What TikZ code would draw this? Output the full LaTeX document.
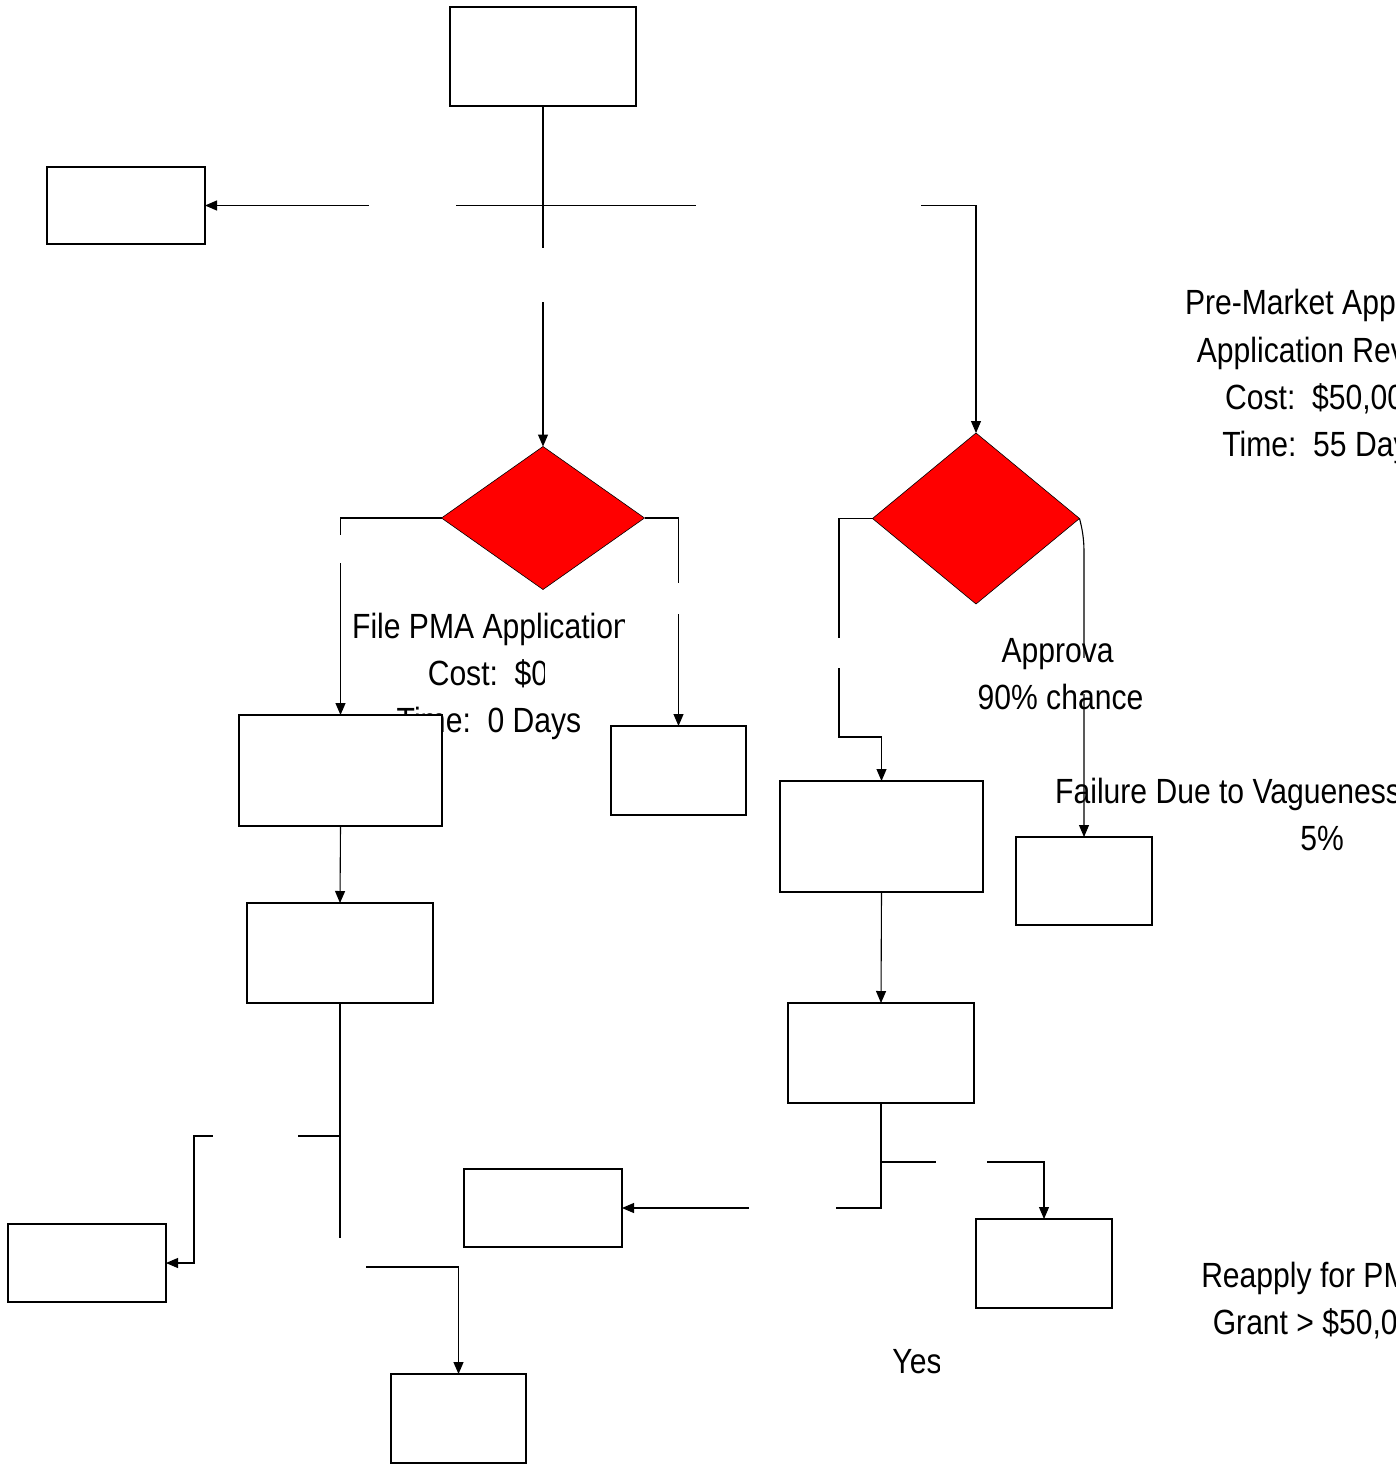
\documentclass[tikz,border=0pt]{standalone}
\usepackage{fontspec}
\setmainfont{Liberation Sans}
\newfontfamily\lblfont[FakeStretch=0.86]{Liberation Sans}
\usetikzlibrary{shapes.geometric,arrows.meta}

\begin{document}
\begin{tikzpicture}[x=1pt,y=-1pt,
  box/.style={draw=black,fill=white,line width=1.1pt,inner sep=0pt,outer sep=0pt},
  decision/.style={diamond,draw=black,fill=red,line width=0.6pt,inner sep=0pt,outer sep=0pt},
  conn/.style={draw=black,line width=1.1pt},
  arr/.style={conn,-{Triangle[length=12pt,width=10pt]}},
  gapbox/.style={fill=white,inner sep=0pt,outer sep=0pt},
  lbl/.style={font=\lblfont\fontsize{35}{47}\selectfont,inner sep=0pt,anchor=base},
]
\useasboundingbox (0,0) rectangle (1396,1464);
\clip (0,0) rectangle (1396,1464);

% third line of the filing label sits beneath box B
\node[lbl] (fileT) at (489,732) {Time:\ \ 0 Days};

% boxes
\node[box,minimum width=186pt,minimum height=99pt]  (top) at (543,56.5) {};
\node[box,minimum width=158pt,minimum height=77pt]  (A)   at (126,205.5) {};
\node[box,minimum width=203pt,minimum height=111pt] (B)   at (340.5,770.5) {};
\node[box,minimum width=135pt,minimum height=89pt]  (C)   at (678.5,770.5) {};
\node[box,minimum width=203pt,minimum height=111pt] (D)   at (881.5,836.5) {};
\node[box,minimum width=136pt,minimum height=88pt]  (E)   at (1084,881) {};
\node[box,minimum width=186pt,minimum height=100pt] (F)   at (340,953) {};
\node[box,minimum width=158pt,minimum height=78pt]  (G)   at (87,1263) {};
\node[box,minimum width=135pt,minimum height=89pt]  (H)   at (458.5,1418.5) {};
\node[box,minimum width=186pt,minimum height=100pt] (I)   at (881,1053) {};
\node[box,minimum width=158pt,minimum height=78pt]  (J)   at (543,1208) {};
\node[box,minimum width=136pt,minimum height=89pt]  (K)   at (1044,1263.5) {};

% decisions
\node[decision,minimum width=203pt,minimum height=143pt] (L) at (543,518) {};
\node[decision,minimum width=207pt,minimum height=171pt] (R) at (976,518.5) {};

% connectors
\draw[arr] (top.south) |- (A.east);
\draw[arr] (top.south) -- (L.north);
\draw[arr] (top.south) -- (top.south |- A.east) -| (R.north);
\draw[arr] (L.west) -| (B.north);
\draw[arr] (L.east) -| (C.north);
\draw[arr] (R.west) -| (839,737) -| (D.north);
\draw[arr] (R.east) .. controls (1082,528) and (1084,538) .. (1084,552) -- (E.north);
\draw[arr] (B.south) -- (F.north);
\draw[arr] (F.south) |- (194,1136) |- (G.east);
\draw[arr] (F.south) |- (458.5,1267) -- (H.north);
\draw[arr] (D.south) -- (I.north);
\draw[arr] (I.south) |- (J.east);
\draw[arr] (I.south) |- (1044,1162) -- (K.north);

% blank label areas interrupting the connectors
\node[gapbox,minimum width=87pt,minimum height=8pt]  (g1)  at (412.5,206) {};
\node[gapbox,minimum width=225pt,minimum height=8pt] (g2)  at (808.5,206) {};
\node[gapbox,minimum width=8pt,minimum height=54pt]  (g3)  at (543,275) {};
\node[gapbox,minimum width=8pt,minimum height=28pt]  (g4)  at (340.5,549) {};
\node[gapbox,minimum width=8pt,minimum height=31pt]  (g5)  at (678.5,598.5) {};
\node[gapbox,minimum width=8pt,minimum height=30pt]  (g6)  at (839,653) {};
\node[gapbox,minimum width=8pt,minimum height=36pt]  (g7)  at (1084,676) {};
\node[gapbox,minimum width=85pt,minimum height=8pt]  (g8)  at (255.5,1136) {};
\node[gapbox,minimum width=36pt,minimum height=39pt] (g9)  at (348,1257.5) {};
\node[gapbox,minimum width=87pt,minimum height=8pt]  (g10) at (792.5,1208) {};
\node[gapbox,minimum width=51pt,minimum height=8pt]  (g11) at (961.5,1162) {};

% labels
\begin{scope}
  \clip (0,0) rectangle (624,1464);
  \node[lbl] (fileA) at (491,638) {File PMA Application};
\end{scope}
\begin{scope}
  \clip (0,0) rectangle (544,1464);
  \node[lbl] (fileC) at (488,685) {Cost:\ \ \$0};
\end{scope}

\begin{scope}
  \clip (0,0) rectangle (1113,1464);
  \node[lbl] (apprA) at (1061,662) {Approval};
\end{scope}
\node[lbl] (apprB) at (1060.5,709) {90\% chance};

\node[lbl] (pmaA) at (1323,314) {Pre-Market Approval};
\node[lbl] (pmaB) at (1324,362) {Application Review};
\node[lbl] (pmaC) at (1323,409) {Cost:\ \ \$50,000};
\node[lbl] (pmaD) at (1323,456) {Time:\ \ 55 Days};

\node[lbl,anchor=base west] (failA) at (1055,803) {Failure Due to Vagueness};
\begin{scope}
  \clip (0,0) rectangle (1342,1464);
  \node[lbl] (failB) at (1322,850) {5\%};
\end{scope}

\node[lbl] (reA) at (1315,1287) {Reapply for PMA};
\node[lbl] (reB) at (1322,1334) {Grant > \$50,000};

\begin{scope}
  \clip (0,0) rectangle (939,1464);
  \node[lbl] (yes) at (917,1373) {Yes};
\end{scope}
\end{tikzpicture}
\end{document}
